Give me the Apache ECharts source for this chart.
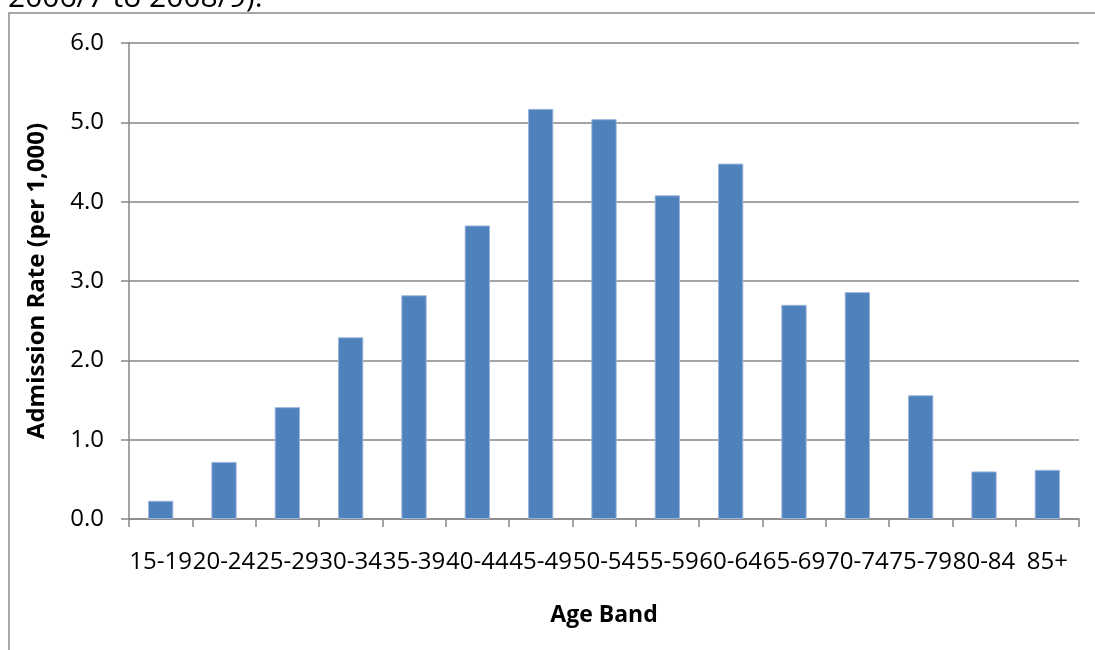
<!DOCTYPE html>
<html>
<head>
<meta charset="utf-8">
<script src="https://cdn.jsdelivr.net/npm/echarts@6/dist/echarts.min.js"></script>
<style>
  html, body { margin: 0; padding: 0; background: #ffffff; }
  #chart { width: 1095px; height: 650px; }
</style>
</head>
<body>
<div id="chart"></div>
<script>
// Admission rate per 1,000 population by age band
const ageBands = ['15-19', '20-24', '25-29', '30-34', '35-39', '40-44', '45-49',
                  '50-54', '55-59', '60-64', '65-69', '70-74', '75-79', '80-84', '85+'];
const admissionRates = [0.23, 0.72, 1.41, 2.29, 2.82, 3.70, 5.17,
                        5.04, 4.08, 4.48, 2.70, 2.86, 1.56, 0.60, 0.62];
const yTicks = { min: 0, max: 6, step: 1 };
const yAxisTitle = 'Admission Rate (per 1,000)';
const xAxisTitle = 'Age Band';
const captionTail = '2006/7 to 2008/9).';

const axisGrey = '#868686';
const fontFamily = '"Open Sans", "DejaVu Sans", sans-serif';

const chart = echarts.init(document.getElementById('chart'), null, { renderer: 'canvas' });

chart.setOption({
  animation: false,
  backgroundColor: '#ffffff',
  textStyle: { fontFamily: fontFamily },
  grid: { left: 129, right: 16, top: 43, bottom: 131, containLabel: false },
  graphic: [
    // tail of the document sentence above the chart frame
    {
      type: 'text', left: 8, top: -17, silent: true,
      style: { text: captionTail, fontSize: 30, fontFamily: fontFamily, fill: '#000000' }
    },
    // chart-area frame
    {
      type: 'rect', silent: true, z: -1,
      shape: { x: 9, y: 13, width: 2000, height: 2000 },
      style: { fill: 'none', stroke: '#8a8a8a', lineWidth: 1.5 }
    }
  ],
  xAxis: {
    type: 'category',
    data: ageBands,
    name: xAxisTitle,
    nameLocation: 'middle',
    nameGap: 85,
    nameTextStyle: { fontSize: 23, fontWeight: 'bold', color: '#000000', fontFamily: fontFamily },
    axisLine: { show: true, lineStyle: { color: axisGrey, width: 1.5 } },
    axisTick: { show: true, alignWithLabel: false, length: 8, lineStyle: { color: axisGrey, width: 1.5 } },
    axisLabel: { interval: 0, fontSize: 24, color: '#000000', margin: 31, fontFamily: fontFamily },
    splitLine: { show: false }
  },
  yAxis: {
    type: 'value',
    min: yTicks.min,
    max: yTicks.max,
    interval: yTicks.step,
    name: yAxisTitle,
    nameLocation: 'middle',
    nameGap: 80,
    nameRotate: 90,
    nameTextStyle: { fontSize: 24, fontWeight: 'bold', color: '#000000', fontFamily: fontFamily },
    axisLine: { show: true, lineStyle: { color: axisGrey, width: 1.5 } },
    axisTick: { show: true, length: 8, inside: false, lineStyle: { color: axisGrey, width: 1.5 } },
    axisLabel: {
      fontSize: 24, color: '#000000', margin: 25, fontFamily: fontFamily,
      formatter: v => v.toFixed(1)
    },
    splitLine: { show: true, lineStyle: { color: axisGrey, width: 1.5 } }
  },
  series: [{
    type: 'bar',
    data: admissionRates,
    barCategoryGap: '60%',
    itemStyle: { color: '#4f81bd', borderColor: '#9db7da', borderWidth: 1 },
    emphasis: { disabled: true }
  }]
});
</script>
</body>
</html>
